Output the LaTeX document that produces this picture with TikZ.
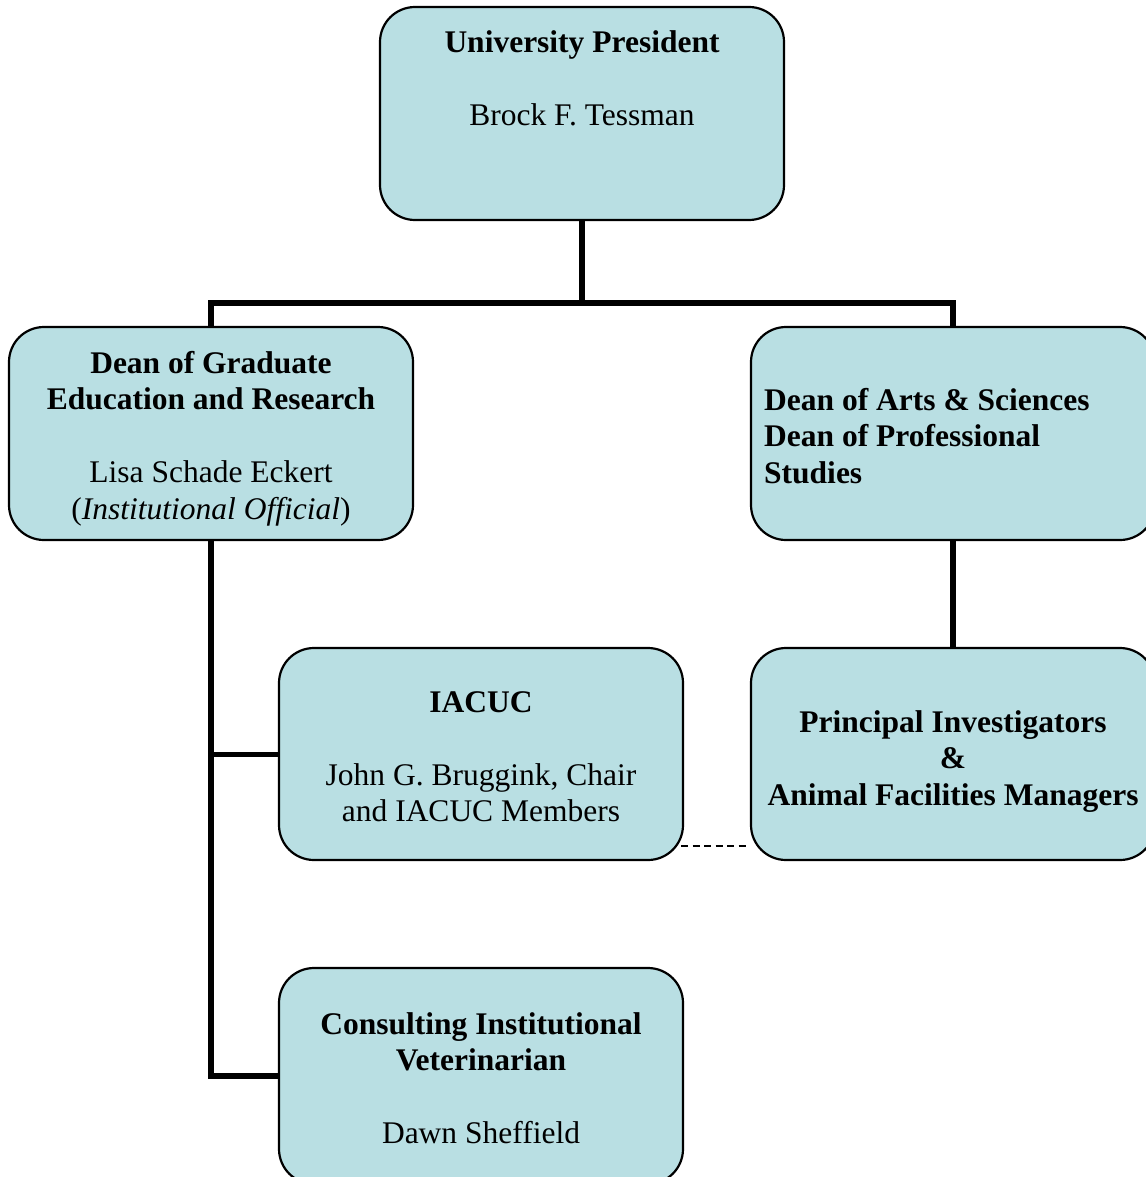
\documentclass[tikz,border=0pt]{standalone}
\usepackage{fontspec}
\setmainfont{Liberation Serif}
\definecolor{boxfill}{RGB}{185,223,227}
\begin{document}
\begin{tikzpicture}[x=1pt,y=-1pt,
  orgbox/.style={draw=black,line width=2.2pt,fill=boxfill,rounded corners=35pt,inner sep=0pt},
  conn/.style={line width=5.6pt,line cap=rect},
  lbl/.style={inner sep=0pt,font=\fontsize{31.5}{36.5}\selectfont,align=center,anchor=north},
  lbll/.style={inner sep=0pt,font=\fontsize{31.5}{36.5}\selectfont,align=left,anchor=north west}]
\useasboundingbox (0,0) rectangle (1145,1177);
% junction coordinates
\coordinate (jn) at (582,303);
\coordinate (dy) at (0,846);
% connectors (behind boxes)
\draw[conn,line cap=butt] (582,220) -- (jn);
\draw[conn,line join=miter] (211,327) |- (jn) -| (953,327);
\draw[conn,line join=miter] (211,540) |- (279,1076);
\draw[conn,line cap=butt] (211,754.5) -- (279,754.5);
\draw[conn,line cap=butt] (953,540) -- (953,648);
% boxes
\node[orgbox,minimum width=404pt,minimum height=213pt] (pres) at (582,113.5) {};
\node[orgbox,minimum width=404pt,minimum height=213pt] (grad) at (211,433.5) {};
\node[orgbox,minimum width=404pt,minimum height=213pt] (arts) at (953,433.5) {};
\node[orgbox,minimum width=404pt,minimum height=212pt] (iacuc) at (481,754) {};
\node[orgbox,minimum width=404pt,minimum height=212pt] (pi) at (953,754) {};
\node[orgbox,minimum width=404pt,minimum height=216pt] (vet) at (481,1076) {};
\draw[line width=2pt,dash pattern=on 7pt off 4.5pt] (iacuc.east |- dy) ++(-3,0) -- (pi.west |- dy);
% texts
\node[lbl] (t-pres) at (582,26.4) {\strut\textbf{University President}\\[36.5pt]Brock F. Tessman};
\node[lbl] (t-grad) at (211,347.4) {\strut\textbf{Dean of Graduate}\\\textbf{Education and Research}\\[36.5pt]Lisa Schade Eckert\\(\textit{Institutional Official})};
\node[lbll] (t-arts) at (764,384.4) {\strut\textbf{Dean of Arts \& Sciences}\\\textbf{Dean of Professional}\\\textbf{Studies}};
\node[lbl] (t-iacuc) at (481,686.4) {\strut\textbf{IACUC}\\[36.5pt]John G. Bruggink, Chair\\and IACUC Members};
\node[lbl] (t-pi) at (953,706.4) {\strut\textbf{Principal Investigators}\\\textbf{\&}\\\textbf{Animal Facilities Managers}};
\node[lbl] (t-vet) at (481,1008.4) {\strut\textbf{Consulting Institutional}\\\textbf{Veterinarian}\\[36.5pt]Dawn Sheffield};
\end{tikzpicture}
\end{document}
